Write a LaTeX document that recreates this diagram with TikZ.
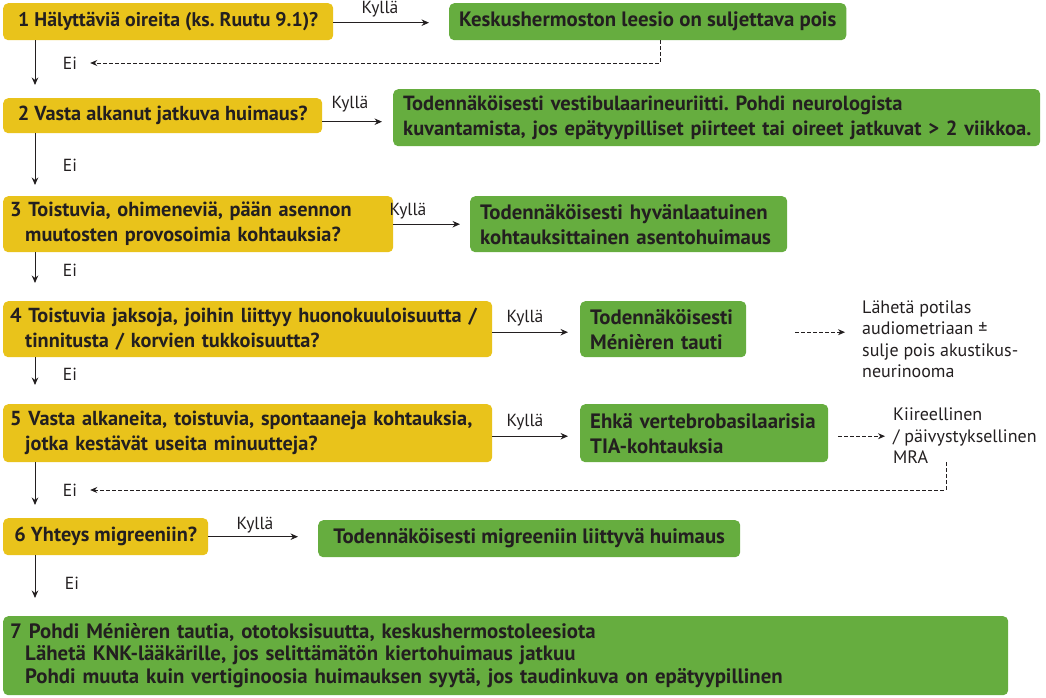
\documentclass[tikz,border=0pt]{standalone}
\usepackage{fontspec}
\setmainfont{PT Sans}
\usetikzlibrary{arrows.meta}
\definecolor{ybox}{HTML}{E9C31B}
\definecolor{gbox}{HTML}{66AD3F}
\definecolor{ink}{HTML}{231F20}
\frenchspacing
\begin{document}
\begin{tikzpicture}[x=1pt,y=-1pt,
  every node/.style={text=ink},
  qbox/.style={fill=ybox, rounded corners=5pt, anchor=north west, inner xsep=7pt, inner ysep=0pt, align=left, font=\fontsize{20.3}{25}\selectfont\bfseries},
  abox/.style={fill=gbox, rounded corners=5pt, anchor=north west, inner xsep=10pt, inner ysep=0pt, align=left, font=\fontsize{20.8}{25}\selectfont\bfseries},
  lbl/.style={font=\fontsize{17.5}{20}\selectfont, inner sep=1pt},
  note/.style={font=\fontsize{18}{21.5}\selectfont, inner sep=0pt, align=left, anchor=west},
  arr/.style={draw=ink, line width=1pt, -{Stealth[length=7.5pt,width=6.5pt]}},
  darr/.style={draw=ink, line width=0.8pt, dash pattern=on 3.5pt off 2.5pt, -{Stealth[length=7pt,width=6pt]}}
]
\useasboundingbox (0,0) rectangle (1046,698);
% question boxes
\node[qbox, minimum width=330, minimum height=37, font=\fontsize{19.8}{25}\selectfont\bfseries] (b1) at (3,3) {1 Hälyttäviä oireita (ks. Ruutu 9.1)?};
\node[qbox, minimum width=319, minimum height=35] (b2) at (3,98) {2 Vasta alkanut jatkuva huimaus?};
\node[qbox, minimum width=390, text width=376, minimum height=56] (b3) at (3,196) {\mbox{3 Toistuvia, ohimeneviä, pään asennon}\\\hspace*{15pt}\mbox{muutosten provosoimia kohtauksia?}};
\node[qbox, minimum width=489, text width=475, minimum height=56] (b4) at (3,301) {\mbox{4 Toistuvia jaksoja, joihin liittyy huonokuuloisuutta /}\\\hspace*{15pt}\mbox{tinnitusta / korvien tukkoisuutta?}};
\node[qbox, minimum width=489, text width=475, minimum height=58] (b5) at (3,404) {\mbox{5 Vasta alkaneita, toistuvia, spontaaneja kohtauksia,}\\\hspace*{15pt}\mbox{jotka kestävät useita minuutteja?}};
\node[qbox, minimum width=205, minimum height=37] (b6) at (3,518) {6 Yhteys migreeniin?};
% answer boxes
\node[abox, minimum width=237, minimum height=37] (g1) at (449,3) {Keskushermoston leesio on suljettava pois};
\node[abox, minimum width=647, text width=627, minimum height=57, font=\fontsize{20.5}{25}\selectfont\bfseries] (g2) at (393,89) {\mbox{Todennäköisesti vestibulaarineuriitti. Pohdi neurologista}\\\mbox{kuvantamista, jos epätyypilliset piirteet tai oireet jatkuvat > 2 viikkoa.}};
\node[abox, minimum width=317, text width=297, minimum height=56] (g3) at (470,196) {\mbox{Todennäköisesti hyvänlaatuinen}\\\mbox{kohtauksittainen asentohuimaus}};
\node[abox, minimum width=166, text width=146, minimum height=56] (g4) at (580,301) {\mbox{Todennäköisesti}\\\mbox{Ménièren tauti}};
\node[abox, minimum width=248, text width=228, minimum height=58] (g5) at (580,404) {\mbox{Ehkä vertebrobasilaarisia}\\\mbox{TIA-kohtauksia}};
\node[abox, minimum width=422, minimum height=37] (g6) at (318,520) {Todennäköisesti migreeniin liittyvä huimaus};
\node[abox, inner xsep=7pt, minimum width=1005, text width=991, minimum height=79, font=\fontsize{20.8}{22.5}\selectfont\bfseries] (b7) at (3,616) {\mbox{7 Pohdi Ménièren tautia, ototoksisuutta, keskushermostoleesiota}\\\hspace*{15pt}\mbox{Lähetä KNK-lääkärille, jos selittämätön kiertohuimaus jatkuu}\\\hspace*{15pt}\mbox{Pohdi muuta kuin vertiginoosia huimauksen syytä, jos taudinkuva on epätyypillinen}};
% notes
\node[note] (n4) at (862,339) {Lähetä potilas\\audiometriaan ±\\sulje pois akustikus-\\neurinooma};
\node[note] (n5) at (893,436) {Kiireellinen\\/ päivystyksellinen\\MRA};
% labels
\node[lbl] (k1) at (380,9) {Kyllä};
\node[lbl] (k2) at (350,104) {Kyllä};
\node[lbl] (k3) at (408,211) {Kyllä};
\node[lbl] (k4) at (525,318) {Kyllä};
\node[lbl] (k5) at (525,422) {Kyllä};
\node[lbl] (k6) at (255,525) {Kyllä};
\node[lbl] (e1) at (70,63) {Ei};
\node[lbl] (e2) at (70,165) {Ei};
\node[lbl] (e3) at (70,270) {Ei};
\node[lbl] (e4) at (70,374) {Ei};
\node[lbl] (e5) at (70,490) {Ei};
\node[lbl] (e6) at (72,583) {Ei};
% yes arrows
\draw[arr, shorten >=20pt] ([yshift=-1pt]b1.east) -- ([yshift=-1pt]b1.east -| g1.west);
\draw[arr, shorten >=11pt] ([yshift=-6pt]b2.east) -- ([yshift=-6pt]b2.east -| g2.west);
\draw[arr, shorten >=10pt] (b3.east) -- (b3.east -| g3.west);
\draw[arr, shorten >=12pt] ([yshift=-3pt]b4.east) -- ([yshift=-3pt]b4.east -| g4.west);
\draw[arr, shorten >=12pt] ([yshift=-3pt]b5.east) -- ([yshift=-3pt]b5.east -| g5.west);
\draw[arr, shorten >=20pt] (b6.east) -- (b6.east -| g6.west);
% no arrows
\draw[arr, shorten >=13pt] ([xshift=32pt]b1.south west) -- ([xshift=32pt]b1.south west |- b2.north);
\draw[arr, shorten >=11pt] ([xshift=32pt]b2.south west) -- ([xshift=32pt]b2.south west |- b3.north);
\draw[arr, shorten >=18pt] ([xshift=32pt]b3.south west) -- ([xshift=32pt]b3.south west |- b4.north);
\draw[arr, shorten >=19pt] ([xshift=32pt]b4.south west) -- ([xshift=32pt]b4.south west |- b5.north);
\draw[arr, shorten >=13pt] ([xshift=32pt]b5.south west) -- ([xshift=32pt]b5.south west |- b6.north);
\draw[arr, shorten >=18pt] ([xshift=32pt]b6.south west) -- ([xshift=32pt]b6.south west |- b7.north);
% dashed
\draw[darr, shorten <=49pt, shorten >=17pt] ([yshift=-3pt]g4.east) -- ([yshift=-3pt]g4.east -| n4.west);
\draw[darr, shorten <=10pt, shorten >=8pt] ([yshift=-3pt]g5.east) -- ([yshift=-3pt]g5.east -| n5.west);
\draw[darr, shorten >=12pt] ([xshift=211pt]g1.south west) |- (e1.east);
\draw[darr, shorten >=12pt] ([xshift=53pt,yshift=2pt]n5.south west) |- (e5.east);
\end{tikzpicture}
\end{document}
